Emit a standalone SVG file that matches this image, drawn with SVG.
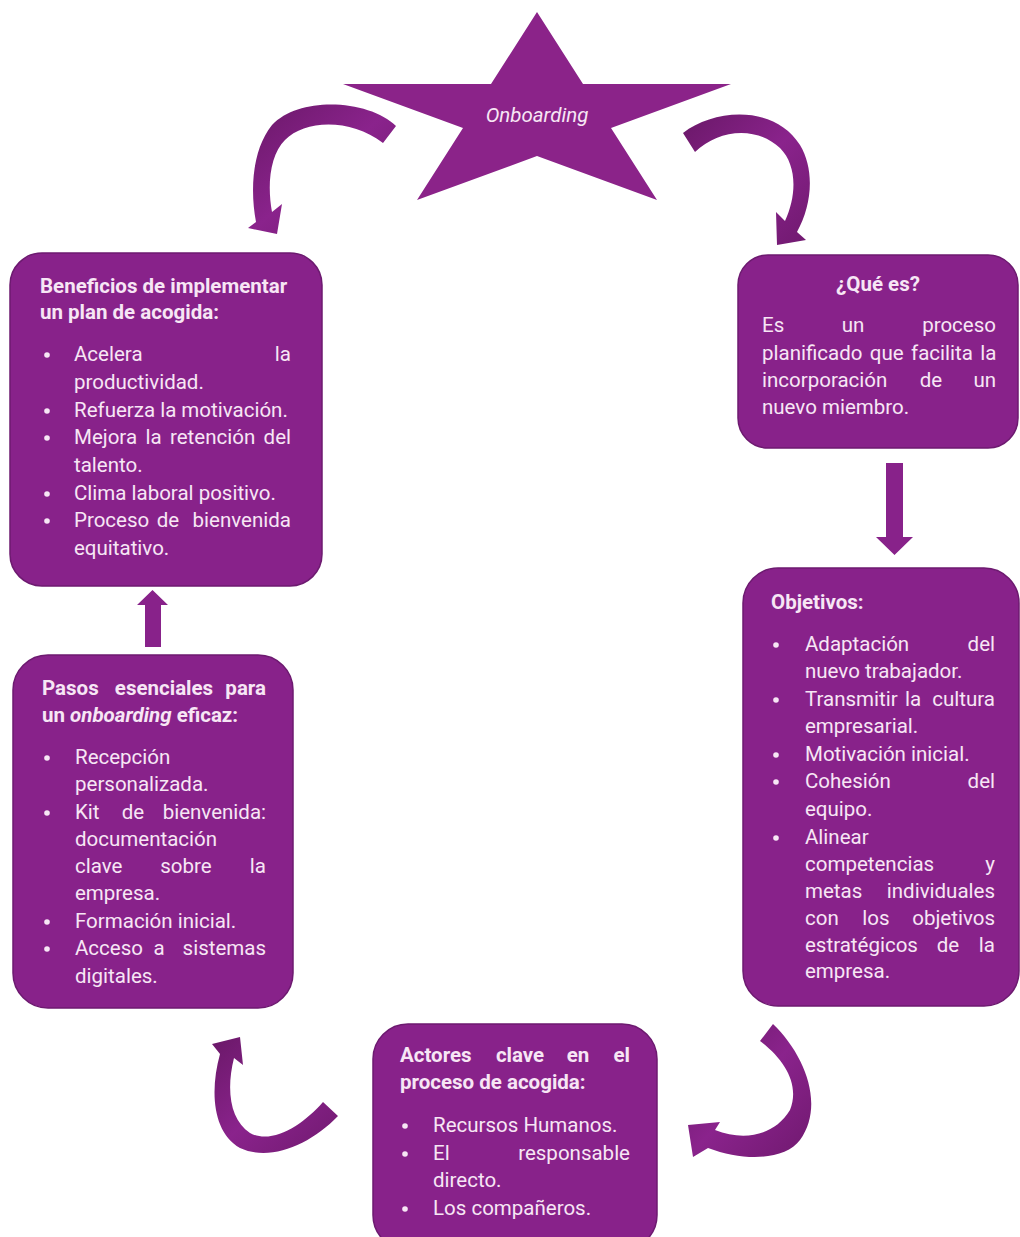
<svg xmlns="http://www.w3.org/2000/svg" width="1020" height="1237" viewBox="0 0 1020 1237">
  <defs>
    <style>
      .box { fill: #88228a; stroke: #6d1a70; stroke-width: 1.5; }
      .t { font-family: Roboto, "Liberation Sans", sans-serif; font-size: 20.5px; fill: #f7e6f5; }
      .b { font-weight: bold; }
      .e { text-anchor: end; }
      .m { text-anchor: middle; }
      .dot { fill: #f7e6f5; }
      .arrow { fill: #88228a; }
      .curl { fill: url(#curlShade); }
    </style>
    <linearGradient id="curlShade" x1="0" y1="0" x2="1" y2="1">
      <stop offset="0" stop-color="#6a1868"/>
      <stop offset="0.5" stop-color="#8a238c"/>
      <stop offset="1" stop-color="#70196f"/>
    </linearGradient>
  </defs>
  <rect width="1020" height="1237" fill="#ffffff"/>

  <!-- central star -->
  <g id="star">
    <polygon points="537,12 583,84 731,84 611,128 657,200 537,156 417,200 463,128 343,84 491,84" fill="#8b2389"/>
    <text class="t" x="537" y="122" text-anchor="middle" font-style="italic" font-size="24">Onboarding</text>
  </g>

  <!-- connectors -->
  <g id="connectors">
    <!-- star to benefits -->
    <path class="curl" d="M 396 126 C 370 100, 300 95, 272 125 C 252 150, 250 190, 256 222 L 248 228 L 277 234 L 282 204 L 272 212 C 267 185, 270 155, 285 140 C 305 120, 350 118, 383 143 Z"/>
    <!-- star to definition -->
    <path class="curl" d="M 683 133 C 715 108, 775 105, 800 145 C 815 170, 812 205, 797 232 L 806 240 L 777 245 L 776 212 L 785 221 C 797 195, 797 165, 780 148 C 755 125, 718 130, 695 152 Z"/>
    <!-- definition to objectives -->
    <polygon class="arrow" points="886,463 903,463 903,537 913,537 894.5,555 876,537 886,537"/>
    <!-- objectives to actors -->
    <path class="curl" d="M 773 1024 C 805 1055, 825 1105, 800 1140 C 785 1160, 745 1162, 708 1148 L 693 1157 L 688 1125 L 720 1122 L 715 1130 C 745 1142, 775 1135, 790 1110 C 800 1085, 785 1060, 760 1041 Z"/>
    <!-- actors to steps -->
    <path class="curl" d="M 323 1102 L 338 1116 C 310 1145, 270 1162, 240 1148 C 212 1132, 210 1090, 220 1054 L 212 1044 L 240 1037 L 243 1065 L 234 1058 C 226 1090, 230 1120, 250 1133 C 272 1145, 303 1125, 323 1102 Z"/>
    <!-- steps to benefits -->
    <polygon class="arrow" points="145,647 161,647 161,605 168,605 152.5,590 137,605 145,605"/>
  </g>

  <!-- benefits -->
  <g id="beneficios">
    <rect class="box" x="10" y="253" width="312" height="333" rx="32"/>
    <text class="t b" x="40" y="293">Beneficios de implementar</text>
    <text class="t b" x="40" y="319">un plan de acogida:</text>
    <circle class="dot" cx="47" cy="355" r="2.8"/>
    <circle class="dot" cx="47" cy="411" r="2.8"/>
    <circle class="dot" cx="47" cy="438" r="2.8"/>
    <circle class="dot" cx="47" cy="494" r="2.8"/>
    <circle class="dot" cx="47" cy="521" r="2.8"/>
    <text class="t" x="74" y="361">Acelera</text>
    <text class="t e" x="291" y="361">la</text>
    <text class="t" x="74" y="389">productividad.</text>
    <text class="t" x="74" y="417">Refuerza la motivación.</text>
    <text class="t" x="74" y="444" word-spacing="3.3">Mejora la retención del</text>
    <text class="t" x="74" y="472">talento.</text>
    <text class="t" x="74" y="500">Clima laboral positivo.</text>
    <text class="t" x="74" y="527">Proceso</text>
    <text class="t m" x="168" y="527">de</text>
    <text class="t e" x="291" y="527">bienvenida</text>
    <text class="t" x="74" y="555">equitativo.</text>
  </g>

  <!-- definition -->
  <g id="que-es">
    <rect class="box" x="738" y="255" width="280" height="193" rx="30"/>
    <text class="t b m" x="878" y="291">¿Qué es?</text>
    <text class="t" x="762" y="332">Es</text>
    <text class="t m" x="853" y="332">un</text>
    <text class="t e" x="996" y="332">proceso</text>
    <text class="t" x="762" y="360" word-spacing="2.3">planificado que facilita la</text>
    <text class="t" x="762" y="387">incorporación</text>
    <text class="t m" x="931" y="387">de</text>
    <text class="t e" x="996" y="387">un</text>
    <text class="t" x="762" y="414">nuevo miembro.</text>
  </g>

  <!-- objectives -->
  <g id="objetivos">
    <rect class="box" x="743" y="568" width="276" height="438" rx="35"/>
    <text class="t b" x="771" y="609">Objetivos:</text>
    <circle class="dot" cx="776" cy="645" r="2.8"/>
    <circle class="dot" cx="776" cy="700" r="2.8"/>
    <circle class="dot" cx="776" cy="755" r="2.8"/>
    <circle class="dot" cx="776" cy="782" r="2.8"/>
    <circle class="dot" cx="776" cy="838" r="2.8"/>
    <text class="t" x="805" y="651">Adaptación</text>
    <text class="t e" x="995" y="651">del</text>
    <text class="t" x="805" y="678">nuevo trabajador.</text>
    <text class="t" x="805" y="706">Transmitir</text>
    <text class="t m" x="913" y="706">la</text>
    <text class="t e" x="995" y="706">cultura</text>
    <text class="t" x="805" y="733">empresarial.</text>
    <text class="t" x="805" y="761">Motivación inicial.</text>
    <text class="t" x="805" y="788">Cohesión</text>
    <text class="t e" x="995" y="788">del</text>
    <text class="t" x="805" y="816">equipo.</text>
    <text class="t" x="805" y="844">Alinear</text>
    <text class="t" x="805" y="871">competencias</text>
    <text class="t e" x="995" y="871">y</text>
    <text class="t" x="805" y="898">metas</text>
    <text class="t e" x="995" y="898">individuales</text>
    <text class="t" x="805" y="925">con</text>
    <text class="t m" x="876" y="925">los</text>
    <text class="t e" x="995" y="925">objetivos</text>
    <text class="t" x="805" y="952">estratégicos</text>
    <text class="t m" x="948" y="952">de</text>
    <text class="t e" x="995" y="952">la</text>
    <text class="t" x="805" y="978">empresa.</text>
  </g>

  <!-- steps -->
  <g id="pasos">
    <rect class="box" x="13" y="655" width="280" height="353" rx="35"/>
    <text class="t b" x="42" y="695">Pasos</text>
    <text class="t b m" x="164" y="695">esenciales</text>
    <text class="t b e" x="266" y="695">para</text>
    <text class="t b" x="42" y="722">un <tspan font-style="italic">onboarding</tspan> eficaz:</text>
    <circle class="dot" cx="47" cy="758" r="2.8"/>
    <circle class="dot" cx="47" cy="813" r="2.8"/>
    <circle class="dot" cx="47" cy="922" r="2.8"/>
    <circle class="dot" cx="47" cy="949" r="2.8"/>
    <text class="t" x="75" y="764">Recepción</text>
    <text class="t" x="75" y="791">personalizada.</text>
    <text class="t" x="75" y="819">Kit</text>
    <text class="t m" x="133" y="819">de</text>
    <text class="t e" x="266" y="819">bienvenida:</text>
    <text class="t" x="75" y="846">documentación</text>
    <text class="t" x="75" y="873">clave</text>
    <text class="t m" x="186" y="873">sobre</text>
    <text class="t e" x="266" y="873">la</text>
    <text class="t" x="75" y="900">empresa.</text>
    <text class="t" x="75" y="928">Formación inicial.</text>
    <text class="t" x="75" y="955">Acceso</text>
    <text class="t m" x="159" y="955">a</text>
    <text class="t e" x="266" y="955">sistemas</text>
    <text class="t" x="75" y="983">digitales.</text>
  </g>

  <!-- key actors -->
  <g id="actores">
    <rect class="box" x="373" y="1024" width="284" height="226" rx="35"/>
    <text class="t b" x="400" y="1062">Actores</text>
    <text class="t b m" x="520" y="1062">clave</text>
    <text class="t b m" x="578" y="1062">en</text>
    <text class="t b e" x="630" y="1062">el</text>
    <text class="t b" x="400" y="1089">proceso de acogida:</text>
    <circle class="dot" cx="405" cy="1126" r="2.8"/>
    <circle class="dot" cx="405" cy="1154" r="2.8"/>
    <circle class="dot" cx="405" cy="1209" r="2.8"/>
    <text class="t" x="433" y="1132">Recursos Humanos.</text>
    <text class="t" x="433" y="1160">El</text>
    <text class="t e" x="630" y="1160">responsable</text>
    <text class="t" x="433" y="1187">directo.</text>
    <text class="t" x="433" y="1215">Los compañeros.</text>
  </g>
</svg>
